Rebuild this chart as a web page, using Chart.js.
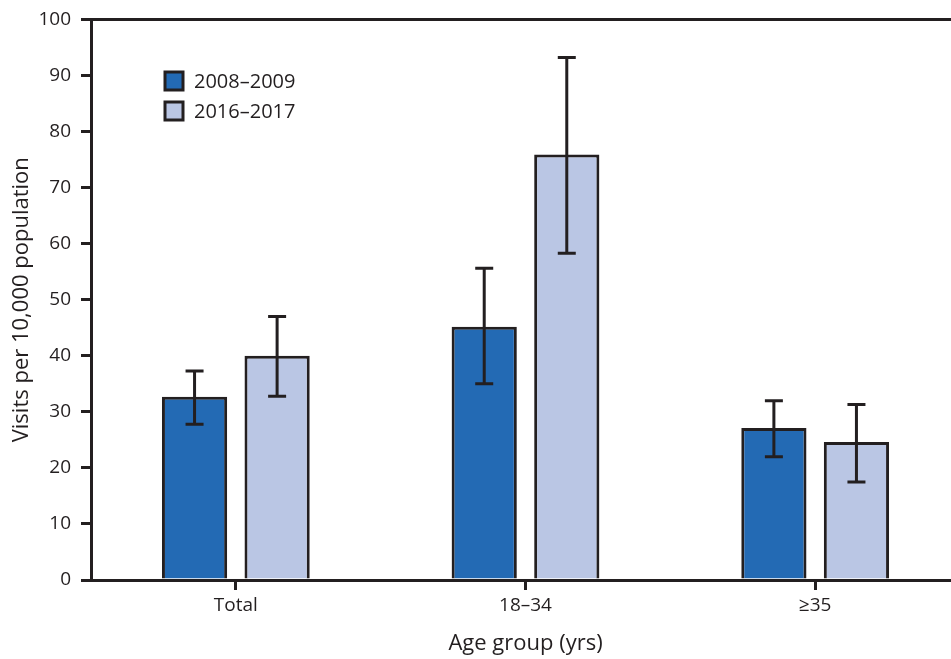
<!DOCTYPE html>
<html>
<head>
<meta charset="utf-8">
<script src="https://cdn.jsdelivr.net/npm/chart.js@4.4.1/dist/chart.umd.min.js"></script>
<style>
html, body { margin: 0; padding: 0; overflow: hidden; background: #ffffff; }
#wrap { position: absolute; left: 0; top: 0; width: 960px; height: 659px; }
</style>
</head>
<body>
<div id="wrap"><canvas id="c"></canvas></div>
<script>
// ---- Data ----
const categories = ['Total', '18–34', '≥35'];
const seriesLabels = ['2008–2009', '2016–2017'];
const rate2008 = [32.7, 45.2, 27.1];
const low2008 = [27.8, 35.0, 22.0];
const high2008 = [37.3, 55.6, 32.0];
const rate2016 = [40.0, 75.9, 24.6];
const low2016 = [32.8, 58.3, 17.5];
const high2016 = [47.0, 93.2, 31.3];
const yTicks = [0, 10, 20, 30, 40, 50, 60, 70, 80, 90, 100];

const INK = '#231f20';
const FONT = "'Open Sans', 'DejaVu Sans', sans-serif";

const errorBars = {
  id: 'errorBars',
  afterDatasetsDraw(chart) {
    const ctx = chart.ctx;
    const y = chart.scales.y;
    ctx.save();
    ctx.strokeStyle = INK;
    ctx.lineWidth = 3;
    chart.data.datasets.forEach((ds, di) => {
      const meta = chart.getDatasetMeta(di);
      meta.data.forEach((bar, i) => {
        const x = bar.x;
        const yl = y.getPixelForValue(ds.low[i]);
        const yh = y.getPixelForValue(ds.high[i]);
        const cap = 9;
        ctx.beginPath();
        ctx.moveTo(x, yl); ctx.lineTo(x, yh);
        ctx.moveTo(x - cap, yl); ctx.lineTo(x + cap, yl);
        ctx.moveTo(x - cap, yh); ctx.lineTo(x + cap, yh);
        ctx.stroke();
      });
    });
    ctx.restore();
  }
};

const insideLegend = {
  id: 'insideLegend',
  afterDraw(chart) {
    const ctx = chart.ctx;
    const x0 = 165, y0 = 72, size = 18, gap = 30;
    ctx.save();
    ctx.font = "20px " + FONT;
    ctx.textBaseline = 'middle';
    ctx.textAlign = 'left';
    chart.data.datasets.forEach((ds, i) => {
      const yy = y0 + i * gap;
      ctx.fillStyle = ds.backgroundColor;
      ctx.fillRect(x0, yy, size, size);
      ctx.strokeStyle = INK;
      ctx.lineWidth = 3;
      ctx.strokeRect(x0, yy, size, size);
      ctx.fillStyle = INK;
      ctx.fillText(ds.label, x0 + 29, yy + size / 2 + 1);
    });
    ctx.restore();
  }
};

new Chart(document.getElementById('c'), {
  type: 'bar',
  data: {
    labels: categories,
    datasets: [
      {
        label: seriesLabels[0], data: rate2008, low: low2008, high: high2008,
        backgroundColor: '#236ab4', borderColor: INK, borderWidth: 3, borderSkipped: 'start',
        categoryPercentage: 0.57, barPercentage: 0.79
      },
      {
        label: seriesLabels[1], data: rate2016, low: low2016, high: high2016,
        backgroundColor: '#bac6e4', borderColor: INK, borderWidth: 3, borderSkipped: 'start',
        categoryPercentage: 0.57, barPercentage: 0.79
      }
    ]
  },
  options: {
    responsive: true,
    maintainAspectRatio: false,
    animation: false,
    layout: { padding: { top: 17, right: 0, left: 0, bottom: 0 } },
    plugins: { legend: { display: false }, tooltip: { enabled: false } },
    scales: {
      x: {
        grid: { drawOnChartArea: false, offset: false, tickLength: 10, tickColor: INK, tickWidth: 3 },
        border: { color: INK, width: 3, z: 1 },
        ticks: { color: INK, font: { family: FONT, size: 19 }, padding: 4 },
        title: { display: true, text: 'Age group (yrs)', color: INK, font: { family: FONT, size: 22 }, padding: { top: 0, bottom: 2 } },
        afterFit(s) { s.height = 79; }
      },
      y: {
        min: 0, max: 100,
        afterBuildTicks(s) { s.ticks = yTicks.map(v => ({ value: v })); },
        grid: {
          drawOnChartArea: true,
          color: (c) => (c.tick && c.tick.value === 100) ? INK : 'rgba(0,0,0,0)',
          lineWidth: 3,
          tickLength: 10, tickColor: INK, tickWidth: 3
        },
        border: { color: INK, width: 3 },
        ticks: { color: INK, font: { family: FONT, size: 19, lineHeight: 1 }, padding: 10 },
        title: { display: true, text: 'Visits per 10,000 population', color: INK, font: { family: FONT, size: 22 }, padding: { top: 9, bottom: 0 } },
        afterFit(s) { s.width = 91; }
      }
    }
  },
  plugins: [errorBars, insideLegend]
});
</script>
</body>
</html>
